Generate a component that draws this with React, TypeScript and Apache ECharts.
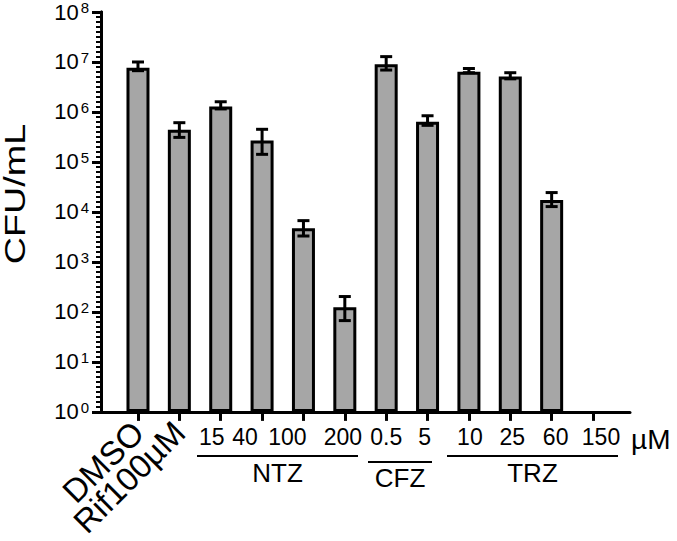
import React, { useEffect, useRef } from "react";
import * as echarts from "echarts";

const categories = ["DMSO", "Rif100µM", "15", "40", "100", "200", "0.5", "5", "10", "25", "60", "150"];
const means = [7.7e6, 4.4e5, 1.28e6, 2.7e5, 4.7e3, 124, 9.0e6, 6.4e5, 6.4e6, 5.1e6, 1.74e4, null];
const upper = [1.0e7, 6.1e5, 1.6e6, 4.5e5, 6.7e3, 203, 1.28e7, 8.4e5, 7.4e6, 6.1e6, 2.44e4, null];
const lower = [6.7e6, 3.1e5, 1.15e6, 1.42e5, 3.3e3, 67, 6.9e6, 5.4e5, 6.1e6, 4.6e6, 1.28e4, null];
const labelShift = [0, 0, -9, -17, -16, -2, 0, -3, 1, 2, 4, 8];
const rotatedIdx = [0, 1];
const numberIdx = [2, 3, 4, 5, 6, 7, 8, 9, 10, 11];
const groups = [
  { name: "NTZ", x1: 197, x2: 358, y: 456, ty: 473 },
  { name: "CFZ", x1: 368, x2: 432, y: 462, ty: 478 },
  { name: "TRZ", x1: 447, x2: 618, y: 456, ty: 473 },
];

const FONT = "'Liberation Sans', Arial, Helvetica, sans-serif";
const X_MIN = -0.894;
const X_MAX = 11.894;
const GRID_W = 529;

export default function App() {
  const ref = useRef<HTMLDivElement>(null);
  useEffect(() => {
    if (!ref.current) return;
    const chart = echarts.init(ref.current, null, { renderer: "svg" });

    const numRich: Record<string, any> = {};
    categories.forEach((_, i) => {
      const s = labelShift[i];
      numRich["s" + i] = {
        fontSize: 23,
        fontFamily: FONT,
        color: "#000",
        padding: s < 0 ? [0, -2 * s, 0, 0] : [0, 0, 0, 2 * s],
      };
    });

    const barData = means
      .map((v, i) => (v == null ? null : [i, v]))
      .filter((d) => d != null);
    const errData = means
      .map((v, i) => (v == null ? null : [i, lower[i], upper[i]]))
      .filter((d) => d != null);
    const catIdx = categories.map((_, i) => i);

    const rotatedAxis = (idx: number) => ({
      type: "value",
      min: X_MIN,
      max: X_MAX,
      position: "bottom",
      offset: 0,
      axisLine: { show: false, onZero: false },
      axisTick: { show: false },
      axisLabel: {
        show: true,
        customValues: [idx],
        showMinLabel: true,
        showMaxLabel: true,
        hideOverlap: false,
        rotate: 45,
        margin: 15,
        fontSize: 33,
        color: "#000",
        fontFamily: FONT,
        formatter: (v: number) => categories[Math.round(v)],
      },
      splitLine: { show: false },
    });

    const option: any = {
      animation: false,
      grid: { left: 101, top: 12, width: GRID_W, height: 400 },
      xAxis: [
        {
          type: "value",
          min: X_MIN,
          max: X_MAX,
          position: "bottom",
          axisLine: { show: true, onZero: false, lineStyle: { color: "#000", width: 3 } },
          axisTick: { show: true, customValues: catIdx, length: 9, lineStyle: { color: "#000", width: 3 } },
          axisLabel: {
            show: true,
            customValues: numberIdx,
            showMinLabel: true,
            showMaxLabel: true,
            hideOverlap: false,
            margin: 14,
            fontSize: 23,
            color: "#000",
            fontFamily: FONT,
            formatter: (v: number) => {
              const i = Math.round(v);
              return `{s${i}|${categories[i]}}`;
            },
            rich: numRich,
          },
          splitLine: { show: false },
        },
        ...rotatedIdx.map((i) => rotatedAxis(i)),
      ],
      yAxis: [
        {
          type: "log",
          logBase: 10,
          min: 1,
          max: 1e8,
          splitNumber: 8,
          position: "left",
          axisLine: { show: true, onZero: false, lineStyle: { color: "#000", width: 3 } },
          axisTick: { show: true, length: 9, lineStyle: { color: "#000", width: 3 } },
          splitLine: { show: false },
          axisLabel: {
            margin: 12,
            color: "#000",
            fontFamily: FONT,
            formatter: (v: number) => `{a|10}{b|${Math.round(Math.log10(v))}}`,
            rich: {
              a: { fontSize: 22, fontFamily: FONT, color: "#000", lineHeight: 24, verticalAlign: "middle" },
              b: { fontSize: 15, fontFamily: FONT, color: "#000", lineHeight: 24, verticalAlign: "top", padding: [0, 0, 0, 2] },
            },
          },
        },
        {
          type: "value",
          min: 0,
          max: 8,
          interval: 1,
          position: "left",
          offset: 0,
          axisLine: { show: true, onZero: false, lineStyle: { color: "#000", width: 3 } },
          axisTick: { show: true, length: 9, lineStyle: { color: "#000", width: 3 } },
          minorTick: { show: true, splitNumber: 10, length: 5, lineStyle: { color: "#000", width: 2 } },
          axisLabel: { show: true, color: "rgba(0,0,0,0)", fontSize: 10, formatter: () => " " },
          splitLine: { show: false },
          minorSplitLine: { show: false },
        },
      ],
      series: [
        {
          type: "bar",
          xAxisIndex: 0,
          yAxisIndex: 0,
          data: barData,
          barWidth: 23,
          itemStyle: { color: "#a6a6a6", borderColor: "#000", borderWidth: 3 },
          z: 2,
        },
        {
          type: "custom",
          xAxisIndex: 0,
          yAxisIndex: 0,
          data: errData,
          z: 3,
          renderItem: (params: any, api: any) => {
            const x = api.value(0);
            const pLo = api.coord([x, api.value(1)]);
            const pHi = api.coord([x, api.value(2)]);
            const cw = 6;
            const style = { stroke: "#000", lineWidth: 3 };
            return {
              type: "group",
              children: [
                { type: "line", shape: { x1: pHi[0], y1: pHi[1], x2: pLo[0], y2: pLo[1] }, style },
                { type: "line", shape: { x1: pHi[0] - cw, y1: pHi[1], x2: pHi[0] + cw, y2: pHi[1] }, style },
                { type: "line", shape: { x1: pLo[0] - cw, y1: pLo[1], x2: pLo[0] + cw, y2: pLo[1] }, style },
              ],
            };
          },
        },
      ],
      graphic: [
        {
          type: "text",
          x: 15,
          y: 194,
          rotation: Math.PI / 2,
          scaleX: 1.3,
          style: { text: "CFU/mL", fontSize: 29, fontFamily: FONT, fill: "#000", align: "center", verticalAlign: "middle" },
        },
        {
          type: "text",
          x: 631,
          y: 439,
          style: { text: "µM", fontSize: 28, fontFamily: FONT, fill: "#000", align: "left", verticalAlign: "middle" },
        },
        ...groups.flatMap((g) => [
          { type: "line", shape: { x1: g.x1, y1: g.y, x2: g.x2, y2: g.y }, style: { stroke: "#000", lineWidth: 2 } },
          {
            type: "text",
            x: (g.x1 + g.x2) / 2,
            y: g.ty,
            style: { text: g.name, fontSize: 26, fontFamily: FONT, fill: "#000", align: "center", verticalAlign: "middle" },
          },
        ]),
      ],
    };
    chart.setOption(option);
    return () => chart.dispose();
  }, []);
  return <div ref={ref} style={{ width: 677, height: 541, position: "absolute", left: 0, top: 0 }} />;
}
